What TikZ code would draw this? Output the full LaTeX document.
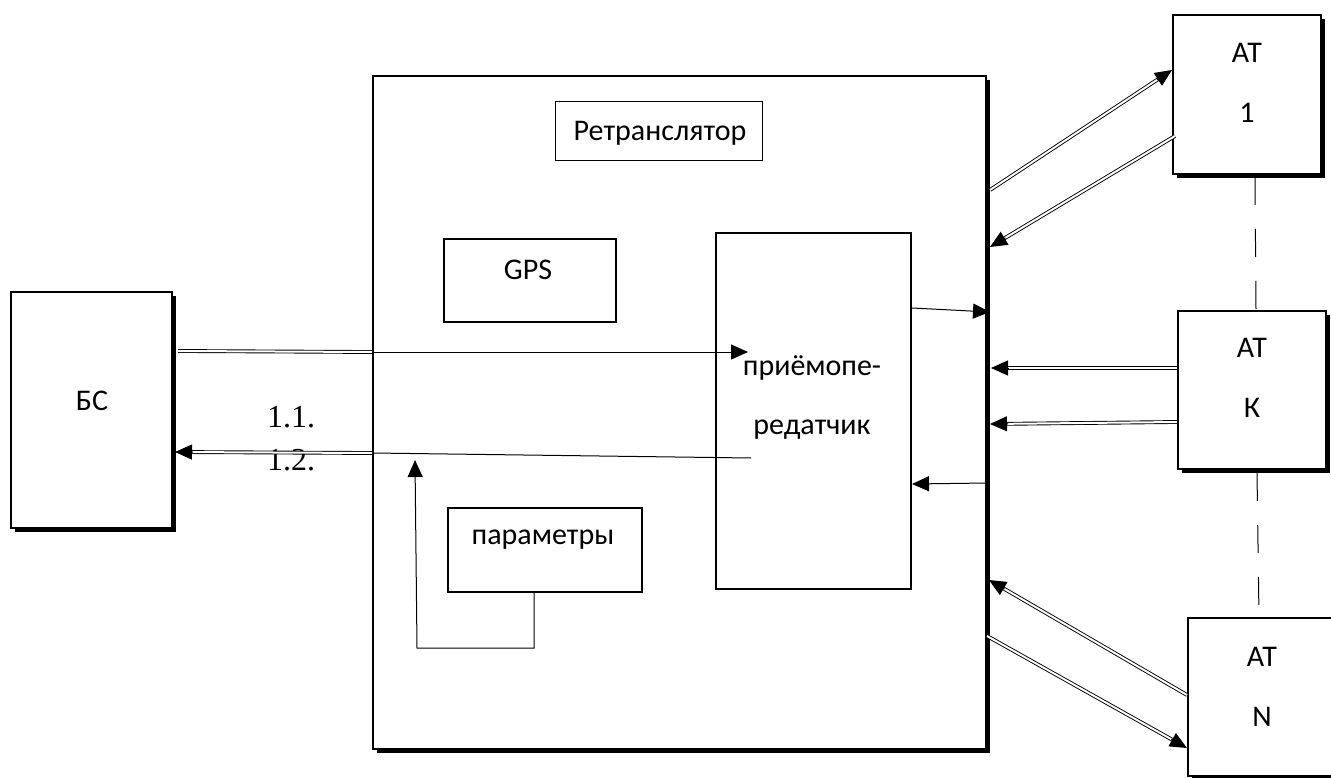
\documentclass[tikz,border=0pt]{standalone}
\usepackage{fontspec}
\setmainfont{Carlito}
\newfontfamily\serifnum{Liberation Serif}
\usetikzlibrary{arrows.meta,calc,shadows}
\tikzset{
  box/.style={draw, line width=2pt, fill=white, inner sep=0pt, anchor=north west},
  sbox/.style={box, general shadow={fill=black, shadow xshift=4pt, shadow yshift=-4pt}},
  thinbox/.style={draw, line width=0.8pt, fill=white, inner sep=0pt, anchor=north west},
  txt/.style={font=\fontsize{30}{33}\selectfont, inner sep=0pt},
  lbl/.style={font=\serifnum\fontsize{32}{34}\selectfont, inner sep=0pt},
  ln/.style={line width=1pt},
  arr/.style={line width=1pt, -{Triangle[length=17pt,width=15pt]}},
  dbl/.style={double, double distance=2pt, line width=0.9pt},
  dashln/.style={line width=1pt, dash pattern=on 28pt off 24pt},
}
\newcommand\dblarr[2]{%
  \draw[dbl, shorten >=14pt] (#1) -- (#2);
  \draw[arr] ($(#2)!18pt!(#1)$) -- (#2);}
\begin{document}
\begin{tikzpicture}[x=1pt,y=-1pt]
\useasboundingbox (0,0) rectangle (1331,778);
% boxes
\node[sbox, minimum width=161pt, minimum height=236pt] (bs) at (10,291) {};
\node[txt] (bst) at (92,401) {БС};
\node[sbox, minimum width=613pt, minimum height=673pt] (ret) at (372,75) {};
\node[thinbox, minimum width=207pt, minimum height=59pt] (rtitle) at (555,101) {};
\node[txt] (rtitlet) at (660,133) {Ретранслятор};
\node[box, minimum width=172pt, minimum height=83pt] (gps) at (443,238) {};
\node[txt] (gpst) at (528,270) {GPS};
\node[box, minimum width=195pt, minimum height=356pt] (trx) at (715,232) {};
\node[txt] (trxa) at (812,368) {приёмопе-};
\node[txt] (trxb) at (812,430) {редатчик};
\node[box, minimum width=194pt, minimum height=84pt] (par) at (447,507) {};
\node[txt] (part) at (543,540) {параметры};
\node[sbox, minimum width=148pt, minimum height=159pt] (at1) at (1172,14) {};
\node[txt] (at1a) at (1247,53) {АТ};
\node[txt] (at1b) at (1247,113) {1};
\node[sbox, minimum width=148pt, minimum height=158pt] (atk) at (1177,310) {};
\node[txt] (atka) at (1252,348) {АТ};
\node[txt] (atkb) at (1252,408) {К};
\node[sbox, minimum width=150pt, minimum height=158pt] (atn) at (1187,617) {};
\node[txt] (atna) at (1262,657) {АТ};
\node[txt] (atnb) at (1262,717) {N};
% labels
\node[lbl] (l11) at (291,417) {1.1.};
\node[lbl] (l12) at (291,460) {1.2.};
% coordinates
\coordinate (f1) at (178,351);
\coordinate (f2) at (ret.west |- 0,352);
\coordinate (f3) at (748,352);
\coordinate (r1) at (751,458);
\coordinate (r2) at (ret.west |- 0,453);
\coordinate (r3) at (175,452);
\coordinate (t1) at (trx.east |- 0,308);
\coordinate (t2) at (990,312);
\coordinate (t3) at (988,483);
\coordinate (t4) at (trx.east |- 0,484);
\coordinate (p1) at (par.south -| 534,0);
\coordinate (p2) at (534,648);
\coordinate (p3) at (417,648);
\coordinate (p4) at (415,460);
\coordinate (a1) at (990,190);
\coordinate (a2) at (at1.west |- 0,70);
\coordinate (a3) at (1175,136);
\coordinate (a4) at (990,247);
\coordinate (k1) at (atk.west |- 0,368);
\coordinate (k2) at (991,368);
\coordinate (k3) at (atk.west |- 0,422);
\coordinate (k4) at (990,424);
\coordinate (n1) at (atn.west |- 0,695);
\coordinate (n2) at (989,580);
\coordinate (n3) at (987,636);
\coordinate (n4) at (atn.west |- 0,748);
\coordinate (d1) at (1255,177);
\coordinate (d2) at (1256,310);
\coordinate (d3) at (1257,473);
\coordinate (d4) at (1259,617);
% connectors
\draw[dbl] (f1) -- (f2);
\draw[arr] (f2) -- (f3);
\draw[ln] (r1) -- (r2);
\dblarr{r2}{r3}
\draw[arr] (t1) -- (t2);
\draw[arr] (t3) -- (t4);
\draw[arr] (p1) -- (p2) -- (p3) -- (p4);
\dblarr{a1}{a2}
\dblarr{a3}{a4}
\dblarr{k1}{k2}
\dblarr{k3}{k4}
\dblarr{n1}{n2}
\dblarr{n3}{n4}
\draw[dashln] (d1) -- (d2);
\draw[dashln] (d3) -- (d4);
\end{tikzpicture}
\end{document}
